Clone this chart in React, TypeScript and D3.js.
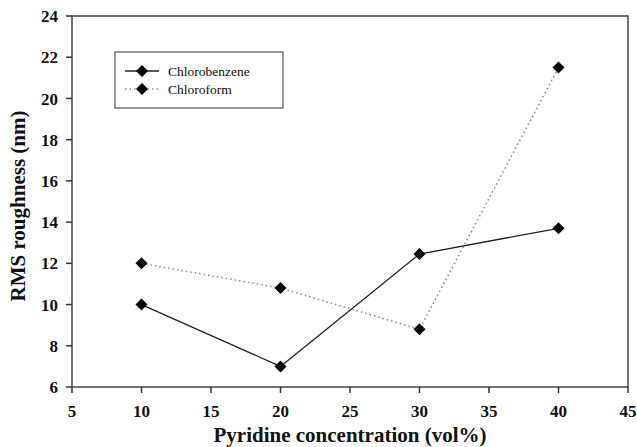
import React from "react";
import * as d3 from "d3";

const concentrations = [10, 20, 30, 40];
const chlorobenzene = [10, 7, 12.45, 13.7];
const chloroform = [12, 10.8, 8.8, 21.5];
const xTicks = [5, 10, 15, 20, 25, 30, 35, 40, 45];
const yTicks = [6, 8, 10, 12, 14, 16, 18, 20, 22, 24];
const seriesNames = ["Chlorobenzene", "Chloroform"];

const W = 637;
const H = 447;
const left = 72;
const right = 628;
const top = 16;
const bottom = 387;
const font = "'Liberation Serif', 'Times New Roman', serif";

// square diamond marker, half-diagonal r
const diamondPath = (r: number) => {
  const p = d3.path();
  p.moveTo(0, -r);
  p.lineTo(r, 0);
  p.lineTo(0, r);
  p.lineTo(-r, 0);
  p.closePath();
  return p.toString();
};

export default function App() {
  const x = d3.scaleLinear().domain([5, 45]).range([left, right]);
  const y = d3.scaleLinear().domain([6, 24]).range([bottom, top]);
  const line = d3
    .line<[number, number]>()
    .x((d) => x(d[0]))
    .y((d) => y(d[1]));
  const diamond = diamondPath(6);

  const s1 = concentrations.map((c, i) => [c, chlorobenzene[i]] as [number, number]);
  const s2 = concentrations.map((c, i) => [c, chloroform[i]] as [number, number]);

  return (
    <svg
      width={W}
      height={H}
      style={{ position: "absolute", left: 0, top: 0, background: "#fff" }}
    >
      {/* frame */}
      <rect
        x={left}
        y={top}
        width={right - left}
        height={bottom - top}
        fill="none"
        stroke="#444"
        strokeWidth={1.5}
      />
      {/* y axis ticks */}
      {yTicks.map((t) => (
        <g key={"y" + t}>
          <line x1={left - 6} x2={left} y1={y(t)} y2={y(t)} stroke="#333" strokeWidth={1.5} />
          <text
            x={left - 14}
            y={y(t)}
            dy="0.36em"
            textAnchor="end"
            fontFamily={font}
            fontWeight={700}
            fontSize={17}
            fill="#111"
          >
            {t}
          </text>
        </g>
      ))}
      {/* x axis ticks */}
      {xTicks.map((t) => (
        <g key={"x" + t}>
          <line x1={x(t)} x2={x(t)} y1={bottom} y2={bottom + 6} stroke="#333" strokeWidth={1.5} />
          <text
            x={x(t)}
            y={417}
            textAnchor="middle"
            fontFamily={font}
            fontWeight={700}
            fontSize={17}
            fill="#111"
          >
            {t}
          </text>
        </g>
      ))}
      {/* axis titles */}
      <text
        x={350}
        y={442}
        textAnchor="middle"
        fontFamily={font}
        fontWeight={700}
        fontSize={21}
        fill="#111"
      >
        Pyridine concentration (vol%)
      </text>
      <text
        transform={`translate(25,206) rotate(-90)`}
        textAnchor="middle"
        fontFamily={font}
        fontWeight={700}
        fontSize={21}
        fill="#111"
      >
        RMS roughness (nm)
      </text>
      {/* series lines */}
      <path d={line(s1) as string} fill="none" stroke="#222" strokeWidth={1.3} />
      <path
        d={line(s2) as string}
        fill="none"
        stroke="#888"
        strokeWidth={1.5}
        strokeDasharray="1.5,3"
      />
      {/* markers */}
      {s1.concat(s2).map((p, i) => (
        <path key={"m" + i} d={diamond} transform={`translate(${x(p[0])},${y(p[1])})`} fill="#000" />
      ))}
      {/* legend */}
      <rect x={115} y={52} width={168} height={56} fill="#fff" stroke="#555" strokeWidth={1.2} />
      <line x1={125} x2={159} y1={71} y2={71} stroke="#222" strokeWidth={1.3} />
      <line x1={125} x2={159} y1={89} y2={89} stroke="#888" strokeWidth={1.5} strokeDasharray="1.5,3" />
      <path d={diamond} transform="translate(142,71)" fill="#000" />
      <path d={diamond} transform="translate(142,89)" fill="#000" />
      {seriesNames.map((n, i) => (
        <text
          key={n}
          x={168}
          y={71 + i * 18}
          dy="0.35em"
          fontFamily={font}
          fontSize={13.5}
          fill="#111"
        >
          {n}
        </text>
      ))}
    </svg>
  );
}
